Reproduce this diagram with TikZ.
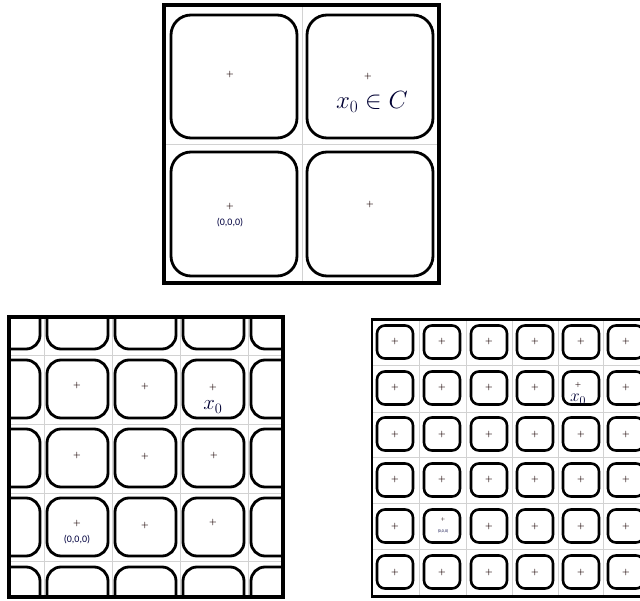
\documentclass[tikz,border=0pt]{standalone}
\usepackage{fontspec}
\newfontfamily\labelfont{Carlito}
\begin{document}
\begin{tikzpicture}[x=1pt,y=-1pt,
  frame/.style={line width=3.2pt},
  gridline/.style={gray!35,line width=0.8pt},
  rbig/.style={line width=2.8pt,rounded corners=20pt},
  rmid/.style={line width=2.8pt,rounded corners=14pt},
  rsmall/.style={line width=2.6pt,rounded corners=8pt},
  plus/.style={inner sep=0pt,font=\fontsize{8}{8}\selectfont\bfseries,text=black!90!red},
  mathlbl/.style={inner sep=0pt,text=black!80!blue},
  coord/.style={inner sep=0pt,font=\labelfont\fontsize{10}{10}\selectfont,text=black!75!blue},
  tinycoord/.style={inner sep=0pt,font=\labelfont\fontsize{4}{4}\selectfont,text=black!75!blue}
]
\useasboundingbox (0,0) rectangle (640,601);
\fill[white] (0,0) rectangle (640,601);

% ---------- top panel ----------
\draw[gridline] (302,5) -- (302,283);
\draw[gridline] (164,144) -- (439,144);
\draw[rbig] (171,15) rectangle (297,138);
\draw[rbig] (307,15) rectangle (433,138);
\draw[rbig] (171,152) rectangle (297,276);
\draw[rbig] (307,152) rectangle (433,276);
\draw[frame] (164,5) rectangle (439,283);
\node[plus] (pt1) at (230,75) {+};
\node[plus] (pt2) at (368,77) {+};
\node[plus] (pt3) at (230,207) {+};
\node[plus] (pt4) at (370,205) {+};
\node[mathlbl,font=\fontsize{25}{25}\selectfont] (xc) at (372,102) {$x_0 \in C$};
\node[coord] (o1) at (230,223) {(0,0,0)};

% ---------- bottom-left panel ----------
\begin{scope}
\clip (9,317) rectangle (283,597);
\foreach \gx in {44,112,180,248} \draw[gridline] (\gx,317) -- (\gx,597);
\foreach \gy in {355,424,493,561} \draw[gridline] (9,\gy) -- (283,\gy);
\foreach \cx in {9.5,77.5,145.5,213.5,281.5}
  \foreach \cy in {320,389,458,527,596}
    \draw[rmid] (\cx-30.5,\cy-29) rectangle (\cx+30.5,\cy+29);
\end{scope}
\draw[frame] (9,317) rectangle (283,597);
\foreach \cx/\cy [count=\i] in {77/386,145/387,213/388,77/455,145/456,214/455,77/523,145/525,213/522}
  \node[plus] (pl\i) at (\cx,\cy) {+};
\node[mathlbl,font=\fontsize{20}{20}\selectfont] (xl) at (213,407) {$x_0$};
\node[coord] (o2) at (77,540) {(0,0,0)};

% ---------- bottom-right panel ----------
\begin{scope}
\clip (371,319) rectangle (640,597);
\foreach \gx in {419,466,512,558,603} \draw[gridline] (\gx,319) -- (\gx,597);
\foreach \gy in {365,412,457,503,549} \draw[gridline] (371,\gy) -- (640,\gy);
\foreach \cx in {395,442,489,535,581,626}
  \foreach \cy in {342,388,434,480,526,572}
    \draw[rsmall] (\cx-18,\cy-16.5) rectangle (\cx+18,\cy+16.5);
\foreach \cx in {395,489,535,626}
  \foreach \cy in {342,388,434,480,526,572}
    \node[plus] at (\cx,\cy) {+};
\foreach \cy in {342,388,434,480,572}
  \node[plus] at (442,\cy) {+};
\foreach \cy in {342,434,480,526,572}
  \node[plus] at (581,\cy) {+};
\draw[frame] (371,319) rectangle (660,597);
\end{scope}
\node[plus,font=\fontsize{6}{6}\selectfont\bfseries] (pr1) at (578,385) {+};
\node[mathlbl,font=\fontsize{18}{18}\selectfont] (xr) at (578,399) {$x_0$};
\node[plus,font=\fontsize{4}{4}\selectfont\bfseries] (pr2) at (443,519) {+};
\node[tinycoord] (o3) at (443,531) {(0,0,0)};
\end{tikzpicture}
\end{document}
